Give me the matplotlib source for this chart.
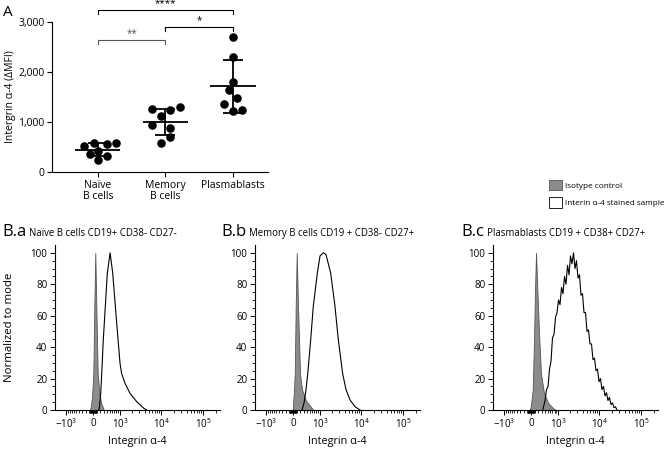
import matplotlib
matplotlib.use("Agg")
import matplotlib.pyplot as plt
from matplotlib.patches import Patch
import numpy as np

plt.rcParams['font.family'] = ['Open Sans', 'DejaVu Sans']
plt.rcParams['mathtext.fontset'] = 'custom'
plt.rcParams['mathtext.rm'] = 'Open Sans'
plt.rcParams['mathtext.it'] = 'Open Sans:italic'
plt.rcParams['axes.linewidth'] = 0.8

# ---- panel A: integrin a-4 dMFI per subset ----
groups = ['Naïve\nB cells', 'Memory\nB cells', 'Plasmablasts']
naive = [520, 573, 553, 573, 360, 427, 320, 240]
memory = [1253, 1240, 1293, 1120, 933, 880, 693, 587]
plasma = [2693, 2307, 1807, 1640, 1487, 1353, 1220, 1240]
# horizontal scatter of the dots (category units)
naive_jit = [-0.20, -0.06, 0.14, 0.27, -0.12, 0.0, 0.14, 0.0]
memory_jit = [-0.20, 0.07, 0.21, -0.06, -0.20, 0.07, 0.07, -0.06]
plasma_jit = [0.0, 0.0, 0.0, -0.06, 0.06, -0.13, 0.0, 0.13]
# significance brackets: (from, to, height, label, colour)
brackets = [(0, 1, 2640, '**', '#555555'),
            (1, 2, 2907, '*', 'black'),
            (0, 2, 3240, '****', 'black')]

# ---- panel B: histograms (intensity, % of mode) ----
iso_a_x = [-80, -60, -26, 8, 34, 60, 87, 125, 169, 225, 285, 306]
iso_a_y = [0, 2, 8.5, 23, 66, 100, 66, 23, 10.6, 4, 1, 0]
st_a_x = [146, 169, 208, 237, 285, 348, 415, 516, 624, 742, 880, 995, 1100,
          1339, 1781, 2592, 3883, 4502]
st_a_y = [0, 1, 10.6, 23, 45, 66, 87, 100, 87, 66, 45, 29.7, 23, 17, 10.6,
          5.3, 1, 0]

iso_b_x = [-10, 8, 26, 45, 71, 98, 133, 188, 246, 371, 541, 650]
iso_b_y = [0, 6, 13, 23, 66, 100, 66, 23, 13, 6, 2, 0]
st_b_x = [246, 306, 371, 429, 541, 648, 843, 995, 1208, 1413, 1854, 2357,
          2826, 3610, 4334, 5400, 7094, 9330]
st_b_y = [0, 4.3, 13, 23, 45, 66, 87, 98, 100, 99, 87, 66, 45, 23, 13, 6.4,
          2.1, 0]

iso_c_x = [-39, -8, 45, 79, 106, 133, 169, 225, 275, 371, 525, 742, 880]
iso_c_y = [0, 2, 13, 45, 77, 100, 77, 45, 23, 10.6, 4.3, 1, 0]
st_c_x = [330, 404, 457, 513, 572, 635, 703, 775, 853, 936, 1025, 1122, 1226,
          1338, 1459, 1590, 1732, 1885, 2049, 2229, 2425, 2635, 2861, 3110,
          3380, 3672, 3988, 4331, 4704, 5108, 5545, 6022, 6538, 7098, 7705,
          8365, 9080, 9857, 10700, 11620, 12610, 13690, 14860, 16130, 17510,
          19000, 20630, 22390, 24290, 26370]
st_c_y = [0, 6, 13, 15, 26, 31, 46, 48, 59, 62, 70, 67, 78, 74, 85, 80, 92,
          86, 98, 93, 100, 90, 95, 84, 86, 73, 74, 62, 62, 50, 51, 42, 42, 32,
          33, 25, 26, 18, 20, 13, 15, 9, 11, 6, 8, 3.5, 4.5, 1.5, 2, 0]

hist_titles = [('B.a', 'Naïve B cells CD19+ CD38- CD27-'),
               ('B.b', 'Memory B cells CD19 + CD38- CD27+'),
               ('B.c', 'Plasmablasts CD19 + CD38+ CD27+')]
major_ticks = [-1000, 0, 1000, 1e4, 1e5]
major_labels = [r'$-10^{3}$', '0', r'$10^{3}$', r'$10^{4}$', r'$10^{5}$']

fig = plt.figure(figsize=(6.68, 4.49), dpi=100)

# ---------------- panel A ----------------
ax = fig.add_axes([0.0778, 0.6169, 0.3234, 0.3341])
for i, (vals, jit) in enumerate([(naive, naive_jit), (memory, memory_jit),
                                 (plasma, plasma_jit)]):
    vals = np.array(vals)
    ax.scatter(i + np.array(jit), vals, s=38, color='black', zorder=3,
               linewidths=0)
    m, sd = vals.mean(), vals.std(ddof=1)
    ax.hlines(m, i - 0.335, i + 0.335, color='black', lw=1.3, zorder=4)
    ax.errorbar(i, m, yerr=sd, color='black', capsize=7, elinewidth=1.3,
                capthick=1.3, zorder=4)

for a, b, h, lab, col in brackets:
    ax.plot([a, a, b, b], [h - 85, h, h, h - 85], color=col, lw=0.8,
            clip_on=False)
    ax.text((a + b) / 2, h + 10, lab, ha='center', va='bottom', fontsize=7,
            color=col)

ax.set_xlim(-0.68, 2.52)
ax.set_ylim(0, 3000)
ax.set_xticks(range(3))
ax.set_xticklabels(groups, fontsize=7.5, linespacing=1.1)
ax.set_yticks([0, 1000, 2000, 3000])
ax.set_yticklabels(['0', '1,000', '2,000', '3,000'], fontsize=7.5)
ax.tick_params(length=3.5, width=0.8, pad=2)
ax.set_ylabel('Intergrin α-4 (ΔMFI)', fontsize=7.5)
ax.yaxis.set_label_coords(-0.165, 0.5)
for s in ['top', 'right']:
    ax.spines[s].set_visible(False)
fig.text(0.004, 0.972, 'A', fontsize=11, va='center')

# legend
handles = [Patch(facecolor='#8c8c8c', edgecolor='#555555', lw=0.6),
           Patch(facecolor='white', edgecolor='black', lw=0.6)]
fig.legend(handles, ['Isotype control', 'Interin α-4 stained sample'],
           loc='upper left', bbox_to_anchor=(0.816, 0.608), frameon=False,
           fontsize=5.9, handlelength=1.55, handleheight=1.55,
           labelspacing=0.85, handletextpad=0.35, borderpad=0)

# ---------------- panel B ----------------
b_lefts = [0.0823, 0.3817, 0.738]
hists = [(iso_a_x, iso_a_y, st_a_x, st_a_y),
         (iso_b_x, iso_b_y, st_b_x, st_b_y),
         (iso_c_x, iso_c_y, st_c_x, st_c_y)]
title_x = [(0.003, 0.043), (0.332, 0.373), (0.690, 0.729)]
minor_ticks = ([-v for v in range(100, 1000, 100)] +
               [-v for v in range(10, 100, 10)] + list(range(10, 100, 10)) +
               list(range(100, 1000, 100)) + list(range(2000, 10000, 1000)) +
               list(range(20000, 100000, 10000)) + [200000])

for k, left in enumerate(b_lefts):
    bx = fig.add_axes([left, 0.0869, 0.247, 0.3675])
    ix, iy, sx, sy = hists[k]
    bx.fill_between(ix, iy, 0, facecolor='#8c8c8c', edgecolor='#555555',
                    lw=0.6, zorder=2)
    bx.plot(sx, sy, color='black', lw=0.8, zorder=3)
    bx.set_xscale('asinh', linear_width=480)
    bx.set_xlim(-1890, 2.48e5)
    bx.set_ylim(0, 105)
    bx.set_xticks(major_ticks)
    bx.set_xticklabels(major_labels, fontsize=7)
    bx.set_xticks(minor_ticks, minor=True)
    bx.set_xticklabels([], minor=True)
    bx.set_yticks(range(0, 101, 20))
    bx.set_yticks(range(0, 101, 5), minor=True)
    bx.tick_params(axis='both', which='major', length=3.5, width=0.7,
                   labelsize=7, pad=2)
    bx.tick_params(axis='both', which='minor', length=2, width=0.6)
    for s in ['top', 'right']:
        bx.spines[s].set_visible(False)
    bx.set_xlabel('Integrin α-4', fontsize=7.8)
    bx.xaxis.set_label_coords(0.5, -0.16)
    if k == 0:
        bx.set_ylabel('Normalized to mode', fontsize=8.2)
        bx.yaxis.set_label_coords(-0.24, 0.5)
    tag, sub = hist_titles[k]
    fig.text(title_x[k][0], 0.483, tag, fontsize=12, va='center')
    fig.text(title_x[k][1], 0.481, sub, fontsize=6.9, va='center')

fig.savefig('out.png', dpi=100)
